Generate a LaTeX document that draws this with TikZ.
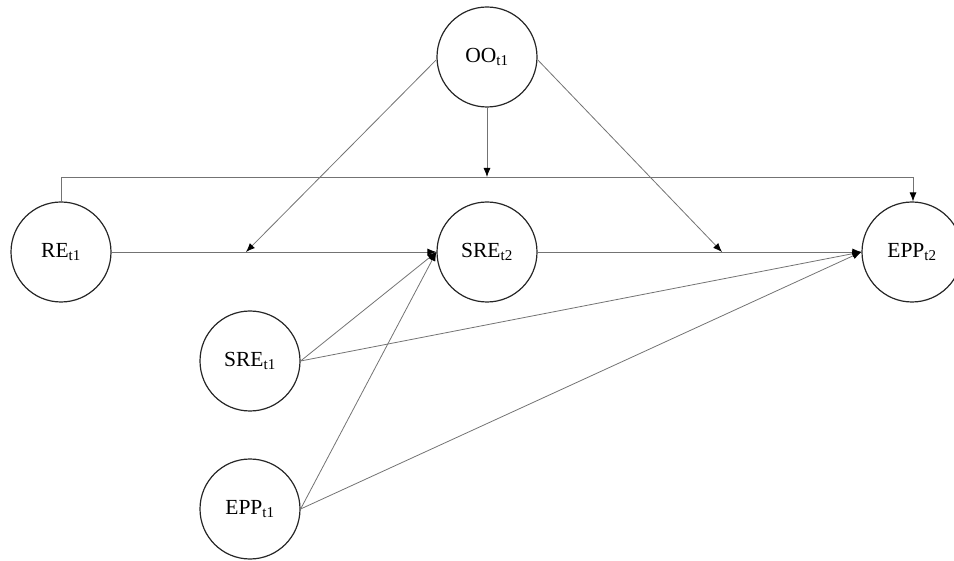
\documentclass[tikz,border=0pt]{standalone}
\usepackage{fontspec}
\setmainfont{Liberation Serif}
\usetikzlibrary{arrows.meta}
\begin{document}
\begin{tikzpicture}[x=1pt,y=-1pt,
  var/.style={circle,draw=black!85,line width=1.2pt,minimum size=100pt,inner sep=0pt,font=\fontsize{21.5}{25}\selectfont},
  conn/.style={draw=black!55,line width=0.8pt},
  arr/.style={conn,-{Latex[length=9pt,width=7pt,fill=black,color=black]}}]
\useasboundingbox (0,0) rectangle (954,561);
\node[var] (oo) at (487,57) {OO\textsubscript{t1}};
\node[var] (re) at (61,252) {RE\textsubscript{t1}};
\node[var] (sre2) at (487,252) {SRE\textsubscript{t2}};
\node[var] (epp2) at (912,252) {EPP\textsubscript{t2}};
\node[var] (sre1) at (250,361) {SRE\textsubscript{t1}};
\node[var] (epp1) at (250,509) {EPP\textsubscript{t1}};
\coordinate (m1) at (246,252);
\coordinate (m2) at (722,252);
\coordinate (m3) at (487,177);
\coordinate (c1) at (61,177);
\coordinate (c2) at (913,177);
% main paths
\draw[arr] (re.east) -- (sre2.west);
\draw[arr] (sre2.east) -- (epp2.west);
\draw[arr] (re.north) -- (c1) -- (c2) -- (epp2.north -| c2);
% moderator arrows
\draw[arr] (oo.183) -- (m1);
\draw[arr] (oo.357) -- (m2);
\draw[arr] (oo.south) -- (m3);
% lagged effects
\draw[arr] (sre1.east) -- (sre2.west);
\draw[arr] (sre1.east) -- (epp2.west);
\draw[arr] (epp1.east) -- (sre2.west);
\draw[arr] (epp1.east) -- (epp2.west);
\end{tikzpicture}
\end{document}
